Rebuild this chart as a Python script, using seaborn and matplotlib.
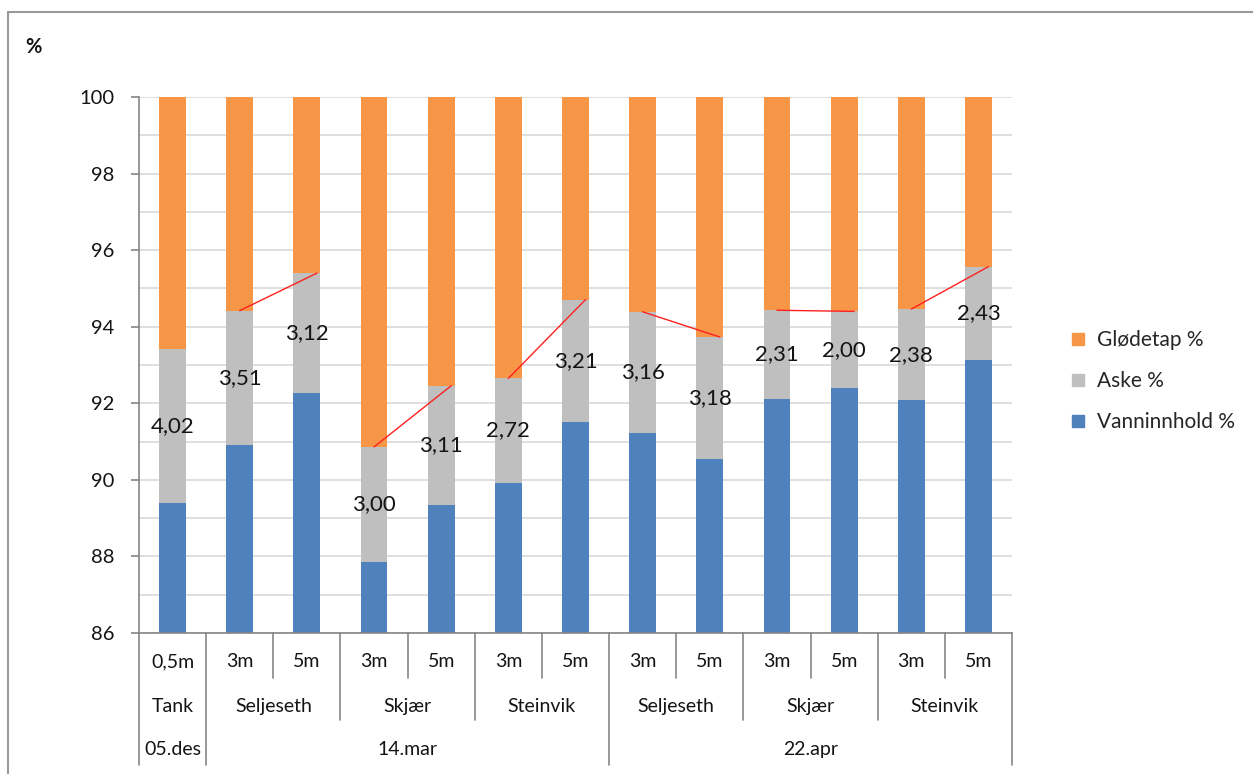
import numpy as np
import pandas as pd
import matplotlib
matplotlib.use("Agg")
import matplotlib.pyplot as plt
import seaborn as sns
from matplotlib.lines import Line2D
from matplotlib.ticker import MultipleLocator

# Data
depths = ["0,5m", "3m", "5m", "3m", "5m", "3m", "5m", "3m", "5m", "3m", "5m", "3m", "5m"]
locations = ["Tank", "Seljeseth", "Seljeseth", "Skjær", "Skjær", "Steinvik", "Steinvik",
             "Seljeseth", "Seljeseth", "Skjær", "Skjær", "Steinvik", "Steinvik"]
dates = ["05.des", "14.mar", "14.mar", "14.mar", "14.mar", "14.mar", "14.mar",
         "22.apr", "22.apr", "22.apr", "22.apr", "22.apr", "22.apr"]
vanninnhold = [89.40, 90.91, 92.28, 87.86, 89.35, 89.93, 91.50,
               91.23, 90.55, 92.12, 92.40, 92.08, 93.14]
aske = [4.02, 3.51, 3.12, 3.00, 3.11, 2.72, 3.21, 3.16, 3.18, 2.31, 2.00, 2.38, 2.43]

BLUE = "#4F81BD"
GRAY = "#BFBFBF"
ORANGE = "#F79646"
AXIS_GRAY = "#868686"
GRID = "#D9D9D9"
TEXT = "#141414"

df = pd.DataFrame({"pos": np.arange(len(depths)), "vann": vanninnhold, "aske": aske})
df["vann_aske"] = df["vann"] + df["aske"]
df["total"] = 100.0
df["glodetap"] = df["total"] - df["vann_aske"]

sns.set_style("white")
plt.rcParams["font.family"] = ["Lato", "DejaVu Sans"]

fig = plt.figure(figsize=(12.53, 7.74), dpi=100)
ax = fig.add_axes([139 / 1253, 1 - 633 / 774, (1012 - 139) / 1253, (633 - 97) / 774])

# stacked bars: draw cumulative tops from back to front
sns.barplot(data=df, x="pos", y="total", color=ORANGE, width=0.4, saturation=1,
            errorbar=None, linewidth=0, ax=ax, zorder=2)
sns.barplot(data=df, x="pos", y="vann_aske", color=GRAY, width=0.4, saturation=1,
            errorbar=None, linewidth=0, ax=ax, zorder=2)
sns.barplot(data=df, x="pos", y="vann", color=BLUE, width=0.4, saturation=1,
            errorbar=None, linewidth=0, ax=ax, zorder=2)

ax.set_ylim(86, 100)
ax.set_xlim(-0.5, len(depths) - 0.5)
ax.set_xlabel("")
ax.set_ylabel("")
ax.yaxis.set_major_locator(MultipleLocator(2))
ax.yaxis.set_minor_locator(MultipleLocator(1))
ax.grid(True, which="both", axis="y", color=GRID, linewidth=1.2, zorder=0)
ax.set_axisbelow(True)
ax.tick_params(axis="y", which="major", left=True, length=6, width=1.2, color=AXIS_GRAY,
               labelsize=14.5, pad=12, labelcolor=TEXT)
ax.tick_params(axis="y", which="minor", length=0)
ax.tick_params(axis="x", length=0, labelbottom=False)
for s in ["top", "right"]:
    ax.spines[s].set_visible(False)
for s in ["left", "bottom"]:
    ax.spines[s].set_color(AXIS_GRAY)
    ax.spines[s].set_linewidth(1.2)

# Aske labels centred in the grey segment
for i, row in df.iterrows():
    ax.text(i, row["vann"] + row["aske"] / 2, f"{row['aske']:.2f}".replace(".", ","),
            ha="center", va="center", fontsize=16, color=TEXT, zorder=4)

# red lines linking 3m and 5m tops at the same site and date
tops = df["vann_aske"].values
for i in range(len(depths) - 1):
    if locations[i] == locations[i + 1] and dates[i] == dates[i + 1]:
        ax.plot([i, i + 1.15], [tops[i], tops[i + 1]], color="#FF2020", lw=1, zorder=5)

# multi-level category axis
trans = ax.get_xaxis_transform()
row_y = [-0.054, -0.138, -0.218]
line_end = {"short": -0.084, "medium": -0.162, "full": -0.246}

for i, d in enumerate(depths):
    ax.text(i, row_y[0], d, transform=trans, ha="center", va="center", fontsize=14,
            color=TEXT)


def groups(labels):
    out = []
    start = 0
    for k in range(1, len(labels) + 1):
        if k == len(labels) or labels[k] != labels[start]:
            out.append((labels[start], start, k - 1))
            start = k
    return out


loc_keys = [f"{d}|{l}" for d, l in zip(dates, locations)]
for key, a, b in groups(loc_keys):
    ax.text((a + b) / 2, row_y[1], key.split("|")[1], transform=trans, ha="center",
            va="center", fontsize=14, color=TEXT)
for lab, a, b in groups(dates):
    ax.text((a + b) / 2, row_y[2], lab, transform=trans, ha="center", va="center",
            fontsize=14, color=TEXT)

n = len(depths)
for k in range(n + 1):
    if k == 0 or k == n or dates[k - 1] != dates[k]:
        kind = "full"
    elif locations[k - 1] != locations[k]:
        kind = "medium"
    else:
        kind = "short"
    ax.plot([k - 0.5, k - 0.5], [0, line_end[kind]], transform=trans, color=AXIS_GRAY,
            lw=1.2, clip_on=False)

# legend
handles = [Line2D([], [], marker="s", linestyle="", markersize=8, color=c)
           for c in [ORANGE, GRAY, BLUE]]
fig.legend(handles, ["Glødetap %", "Aske %", "Vanninnhold %"], loc="center left",
           bbox_to_anchor=(1052 / 1253, 1 - 381 / 774), frameon=False, fontsize=15,
           handlelength=0.7, handletextpad=0.55, labelspacing=1.0)

# y unit label and chart frame
fig.text(33 / 1253, 1 - 47 / 774, "%", fontsize=14.5, fontweight="bold", ha="center",
         va="center", color=TEXT)
fig.add_artist(Line2D([8 / 1253, 1], [1 - 11.5 / 774, 1 - 11.5 / 774], color="#999999",
                      lw=1.5, transform=fig.transFigure))
fig.add_artist(Line2D([8 / 1253, 8 / 1253], [0, 1 - 11.5 / 774], color="#999999",
                      lw=1.5, transform=fig.transFigure))

fig.savefig("out.png", dpi=100)
